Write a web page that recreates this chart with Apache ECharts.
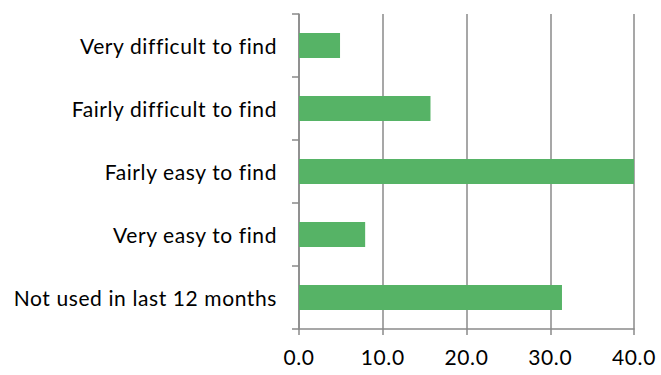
<!DOCTYPE html>
<html>
<head>
<meta charset="utf-8">
<script src="https://cdn.jsdelivr.net/npm/echarts@6/dist/echarts.min.js"></script>
<style>
  html, body { margin: 0; padding: 0; background: #fff; }
  #main { width: 661px; height: 375px; }
  #main text { font-variant-ligatures: none; letter-spacing: 0.6px; }
</style>
</head>
<body>
<div id="main"></div>
<script>
const categories = [
  'Very difficult to find',
  'Fairly difficult to find',
  'Fairly easy to find',
  'Very easy to find',
  'Not used in last 12 months'
]
const values = [4.9, 15.7, 40.0, 7.9, 31.4]
const xTicks = [0, 10, 20, 30, 40]

const chart = echarts.init(document.getElementById('main'), null, { renderer: 'svg' })
const axisGray = '#8a8a8a'
const font = 'Lato, Carlito, Calibri, sans-serif'

const option = {
  animation: false,
  grid: { left: 299, right: 27, top: 14, bottom: 46, containLabel: false },
  xAxis: {
    type: 'value',
    min: xTicks[0],
    max: xTicks[xTicks.length - 1],
    interval: 10,
    axisLine: { show: true, lineStyle: { color: axisGray, width: 1.5 } },
    axisTick: { show: true, length: 6, lineStyle: { color: axisGray, width: 1.5 } },
    splitLine: { show: true, lineStyle: { color: axisGray, width: 1.5 } },
    axisLabel: {
      margin: 17,
      color: '#000',
      fontSize: 21,
      fontFamily: font,
      formatter: v => v.toFixed(1)
    }
  },
  yAxis: {
    type: 'category',
    inverse: true,
    data: categories,
    axisLine: { show: true, lineStyle: { color: axisGray, width: 1.5 } },
    axisTick: { show: true, length: 7, lineStyle: { color: axisGray, width: 1.5 } },
    axisLabel: { margin: 22, color: '#000', fontSize: 21, fontFamily: font }
  },
  series: [{
    type: 'bar',
    data: values,
    barWidth: 25,
    itemStyle: { color: '#56B366' }
  }]
}
option && chart.setOption(option)
</script>
</body>
</html>
